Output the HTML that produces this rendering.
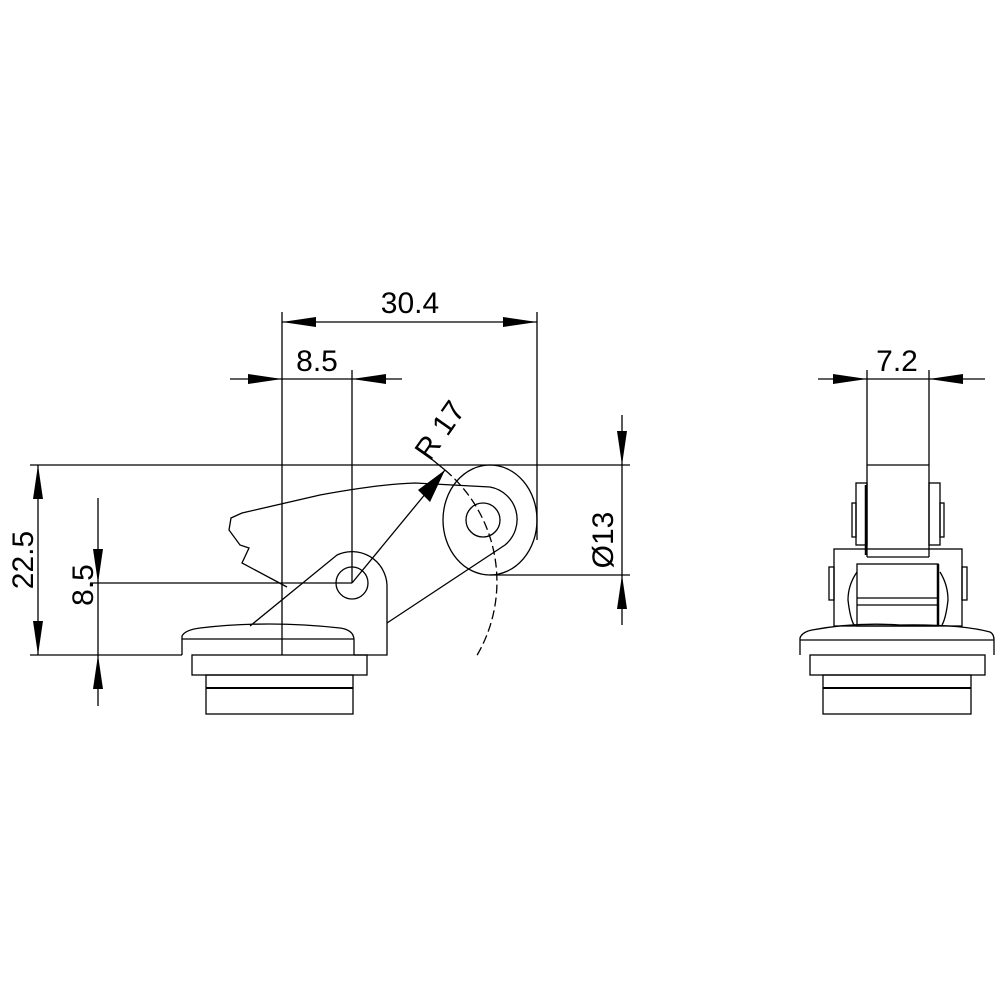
<!DOCTYPE html>
<html><head><style>html,body{margin:0;padding:0;background:#fff}svg{display:block}</style></head>
<body>
<svg width="1000" height="1000" viewBox="0 0 1000 1000" xmlns="http://www.w3.org/2000/svg">
<g fill="none" stroke="#000" stroke-width="1.3">
<!-- dimension/extension lines -->
<line x1="282" y1="312" x2="282" y2="655"/>
<line x1="537" y1="312" x2="537" y2="540"/>
<line x1="282" y1="322" x2="537" y2="322"/>
<line x1="230" y1="379" x2="402" y2="379"/>
<line x1="352" y1="370" x2="352" y2="583"/>
<line x1="30" y1="465" x2="630" y2="465"/>
<line x1="30" y1="655" x2="182" y2="655"/>
<line x1="38" y1="465" x2="38" y2="655"/>
<line x1="98" y1="498" x2="98" y2="706"/>
<line x1="90" y1="583" x2="352" y2="583"/>
<line x1="622" y1="415" x2="622" y2="625"/>
<line x1="490" y1="575" x2="630" y2="575"/>
<!-- base left -->
<path d="M182 655 V636 Q185 630 200 628 Q268 620 340 628 Q354 630 354 640 V655"/>
<line x1="182" y1="639" x2="354" y2="639"/>
<rect x="192" y="655" width="175" height="20"/>
<rect x="206" y="675" width="147" height="39"/>
<line x1="206" y1="688" x2="353" y2="688" stroke-width="2"/>
<!-- bracket -->
<path d="M354 655 H387 V585 A35 35 0 0 0 337 555 L250 626"/>
<circle cx="352" cy="583" r="16"/>
<!-- lever -->
<path d="M287 587 L242 563 L249 548 L240 545 L229 530 L231 518 L242 513 L320 495 Q380 484 415 483 L490 487 A33 33 0 0 1 505 545 L387 623"/>
<circle cx="483" cy="520" r="17"/>
<!-- roller -->
<path d="M537 520 A47 55 0 1 0 490 575 A47 55 0 0 0 537 520 Z"/>
<!-- leader -->
<line x1="352" y1="583" x2="445" y2="470"/>
<line x1="445" y1="470" x2="418" y2="448"/>
<path d="M445 470 A146 146 0 0 1 476 657" stroke-dasharray="9 4"/>
<!-- right view -->
<line x1="818" y1="379" x2="985" y2="379"/>
<line x1="867" y1="370" x2="867" y2="557"/>
<line x1="929" y1="370" x2="929" y2="557"/>
<line x1="867" y1="465" x2="929" y2="465"/>
<line x1="867" y1="557" x2="929" y2="557"/>
<line x1="866" y1="485" x2="866" y2="555" stroke-width="2.5"/>
<rect x="856" y="483" width="11" height="62"/>
<rect x="929" y="483" width="11" height="62"/>
<rect x="852" y="503" width="4" height="34"/>
<rect x="940" y="503" width="4" height="34"/>
<rect x="834" y="549" width="128" height="77"/>
<rect x="829" y="567" width="5" height="33"/>
<rect x="962" y="567" width="5" height="33"/>
<rect x="857" y="564" width="81" height="62"/>
<line x1="857" y1="598" x2="938" y2="598"/>
<line x1="857" y1="605" x2="938" y2="605"/>
<line x1="938" y1="564" x2="938" y2="626" stroke-width="2.5"/>
<path d="M857 572 Q848 585 848 600 Q850 618 854 625"/>
<path d="M940 572 Q948 585 948 600 Q946 618 942 625"/>
<path d="M800 655 V638 Q802 632 812 630 Q855 622 900 625 Q960 624 990 632 Q994 634 994 640 V655"/>
<line x1="800" y1="640" x2="994" y2="640"/>
<rect x="810" y="655" width="175" height="20"/>
<rect x="823" y="675" width="148" height="39"/>
<line x1="823" y1="688" x2="971" y2="688" stroke-width="2"/>
</g>
<!-- arrowheads -->
<g fill="#000">
<polygon points="282,322 316,317 316,327"/>
<polygon points="537,322 503,317 503,327"/>
<polygon points="282,379 248,374 248,384"/>
<polygon points="352,379 386,374 386,384"/>
<polygon points="38,465 33,499 43,499"/>
<polygon points="38,655 33,621 43,621"/>
<polygon points="98,583 93,549 103,549"/>
<polygon points="98,655 93,689 103,689"/>
<polygon points="622,465 617,431 627,431"/>
<polygon points="622,575 617,609 627,609"/>
<polygon points="867,379 833,374 833,384"/>
<polygon points="929,379 963,374 963,384"/>
<polygon points="445,470 418,490 430,502"/>
</g>
<g font-family="Liberation Sans, sans-serif" font-size="30" fill="#000">
<text x="410" y="313" text-anchor="middle">30.4</text>
<text x="317" y="371" text-anchor="middle">8.5</text>
<text x="897" y="371" text-anchor="middle">7.2</text>
<text transform="translate(33,560) rotate(-90)" text-anchor="middle">22.5</text>
<text transform="translate(93,585) rotate(-90)" text-anchor="middle">8.5</text>
<text transform="translate(613,540) rotate(-90)" text-anchor="middle">Ø13</text>
<text transform="translate(430,462) rotate(-55)">R 17</text>
</g>
</svg>
</body></html>
